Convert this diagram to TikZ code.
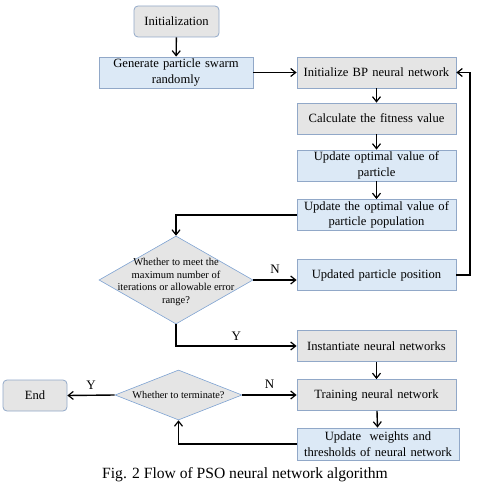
\documentclass[tikz,border=0pt]{standalone}
\usepackage{fontspec}
\setmainfont{Liberation Serif}
\usetikzlibrary{shapes.geometric,arrows.meta}
\definecolor{gfill}{RGB}{229,229,229}
\definecolor{bfill}{RGB}{220,233,246}
\definecolor{bdr}{RGB}{145,168,200}
\definecolor{dbdr}{RGB}{125,162,210}
\tikzset{
  box/.style={draw=bdr, line width=0.8pt, minimum width=159pt, minimum height=31pt, inner sep=1pt, align=center, font=\fontsize{12.6}{15.5}\selectfont, text width=157pt},
  gbox/.style={box, fill=gfill},
  bbox/.style={box, fill=bfill},
  rbox/.style={draw=bdr, line width=0.8pt, fill=gfill, rounded corners=4pt, minimum height=31pt, align=center, font=\fontsize{12.6}{15.5}\selectfont},
  dec/.style={diamond, draw=dbdr, line width=0.6pt, fill=gfill, inner sep=0pt},
  dtext/.style={align=center, inner sep=0pt},
  arr/.style={line width=1.4pt, -{Straight Barb[length=5pt,width=8pt,line width=1.2pt]}},
  lab/.style={font=\fontsize{13}{14}\selectfont},
}
\begin{document}
\begin{tikzpicture}[x=1pt,y=-1pt]
\useasboundingbox (0,0) rectangle (478,497);
\node[rbox, minimum width=85pt] (init) at (176.5,21.5) {Initialization};
\node[bbox, minimum width=154pt, text width=152pt] (gen) at (176,72.5) {Generate particle swarm\\randomly};
\node[gbox] (bp) at (376.5,72.5) {Initialize BP neural network};
\node[gbox] (calc) at (376.5,118.5) {Calculate the fitness value};
\node[bbox] (u1) at (376.5,165.5) {Update optimal value of\\particle};
\node[bbox] (u2) at (376.5,215) {Update the optimal value of\\particle population};
\node[dec, minimum width=154pt, minimum height=88pt] (d1) at (176,280) {};
\node[dtext, font=\fontsize{10.5}{12.7}\selectfont] (d1t) at (176,282) {Whether to meet the\\maximum number of\\iterations or allowable error\\range?};
\node[bbox] (pos) at (376.5,275) {Updated particle position};
\node[gbox] (inst) at (376.5,346) {Instantiate neural networks};
\node[gbox] (train) at (376.5,395) {Training neural network};
\node[dec, minimum width=127pt, minimum height=50pt] (d2) at (178.5,395) {};
\node[dtext, font=\fontsize{10.3}{12}\selectfont] (d2t) at (178.5,395) {Whether to terminate?};
\node[rbox, minimum width=64pt] (end) at (35,395.5) {End};
\node[bbox, minimum width=162pt, text width=160pt, minimum height=32pt] (uw) at (378,444) {Update\ \ weights and\\thresholds of neural network};
\node[font=\fontsize{15.6}{17}\selectfont] (cap) at (245,475) {Fig. 2 Flow of PSO neural network algorithm};

\draw[arr] (init) -- (gen);
\draw[arr] (gen) -- (bp);
\draw[arr] (bp) -- (calc);
\draw[arr] (calc) -- (u1);
\draw[arr] (u1) -- (u2);
\draw[arr] (u2.west) -| (d1.north);
\draw[arr] (d1.east) -- (d1.east -| pos.west) node[lab, midway, above=2pt] (n1) {N};
\coordinate (fb) at (470,275);
\draw[arr] (pos.east) -- (fb) |- (bp.east);
\draw[arr] (d1.south) |- (inst.west) node[lab, pos=0.75, above=1pt] (y1) {Y};
\draw[arr] (inst) -- (train);
\draw[arr] (train) -- (uw);
\draw[arr] (uw.west) -| (d2.south);
\draw[arr] (d2.east) -- (train.west) node[lab, midway, above=2pt] (n2) {N};
\draw[arr] (d2.west) -- (end.east) node[lab, midway, above=2pt] (y2) {Y};
\end{tikzpicture}
\end{document}
